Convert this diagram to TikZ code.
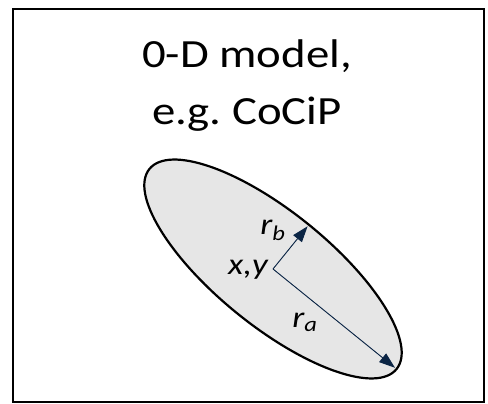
\documentclass[tikz,border=0pt]{standalone}
\usepackage{fontspec}
\setmainfont[FakeStretch=1.17]{Carlito}
\usetikzlibrary{arrows.meta}
\definecolor{navy}{HTML}{0B2545}
\definecolor{ellgray}{HTML}{E6E6E6}

\begin{document}
\begin{tikzpicture}[x=1pt,y=1pt,>={Triangle[length=16pt,width=11pt]},
 every node/.style={inner sep=0pt},
 lbl/.style={font=\fontsize{30}{32}\selectfont\itshape},
 rad/.style={->,draw=navy,fill=navy,line width=0.9pt}]
\useasboundingbox (0,0) rectangle (488,404);
\node[draw,line width=2pt,minimum width=471pt,minimum height=393pt] (frame) at (248.5,198.5) {};
\node[align=center,anchor=base,font=\fontsize{40}{57}\selectfont] (title) at (247,279) {0-D model,\\e.g.\ CoCiP};
% contrail cross-section
\coordinate (c) at (273,135);
\draw[fill=ellgray,line width=2.2pt,rotate around={-39:(c)}] (c) ellipse [x radius=159,y radius=57];
\path (c) ++(-39:157) coordinate (ta);
\path (c) ++(51:55) coordinate (tb);
\draw[rad] (c)--(ta);
\draw[rad] (c)--(tb);
\node[lbl,anchor=east] (xy) at (268,134) {x,y};
\node[lbl] (rb) at (273,174) {r\textsubscript{b}};
\node[lbl] (ra) at (305,82) {r\textsubscript{a}};
\end{tikzpicture}
\end{document}
